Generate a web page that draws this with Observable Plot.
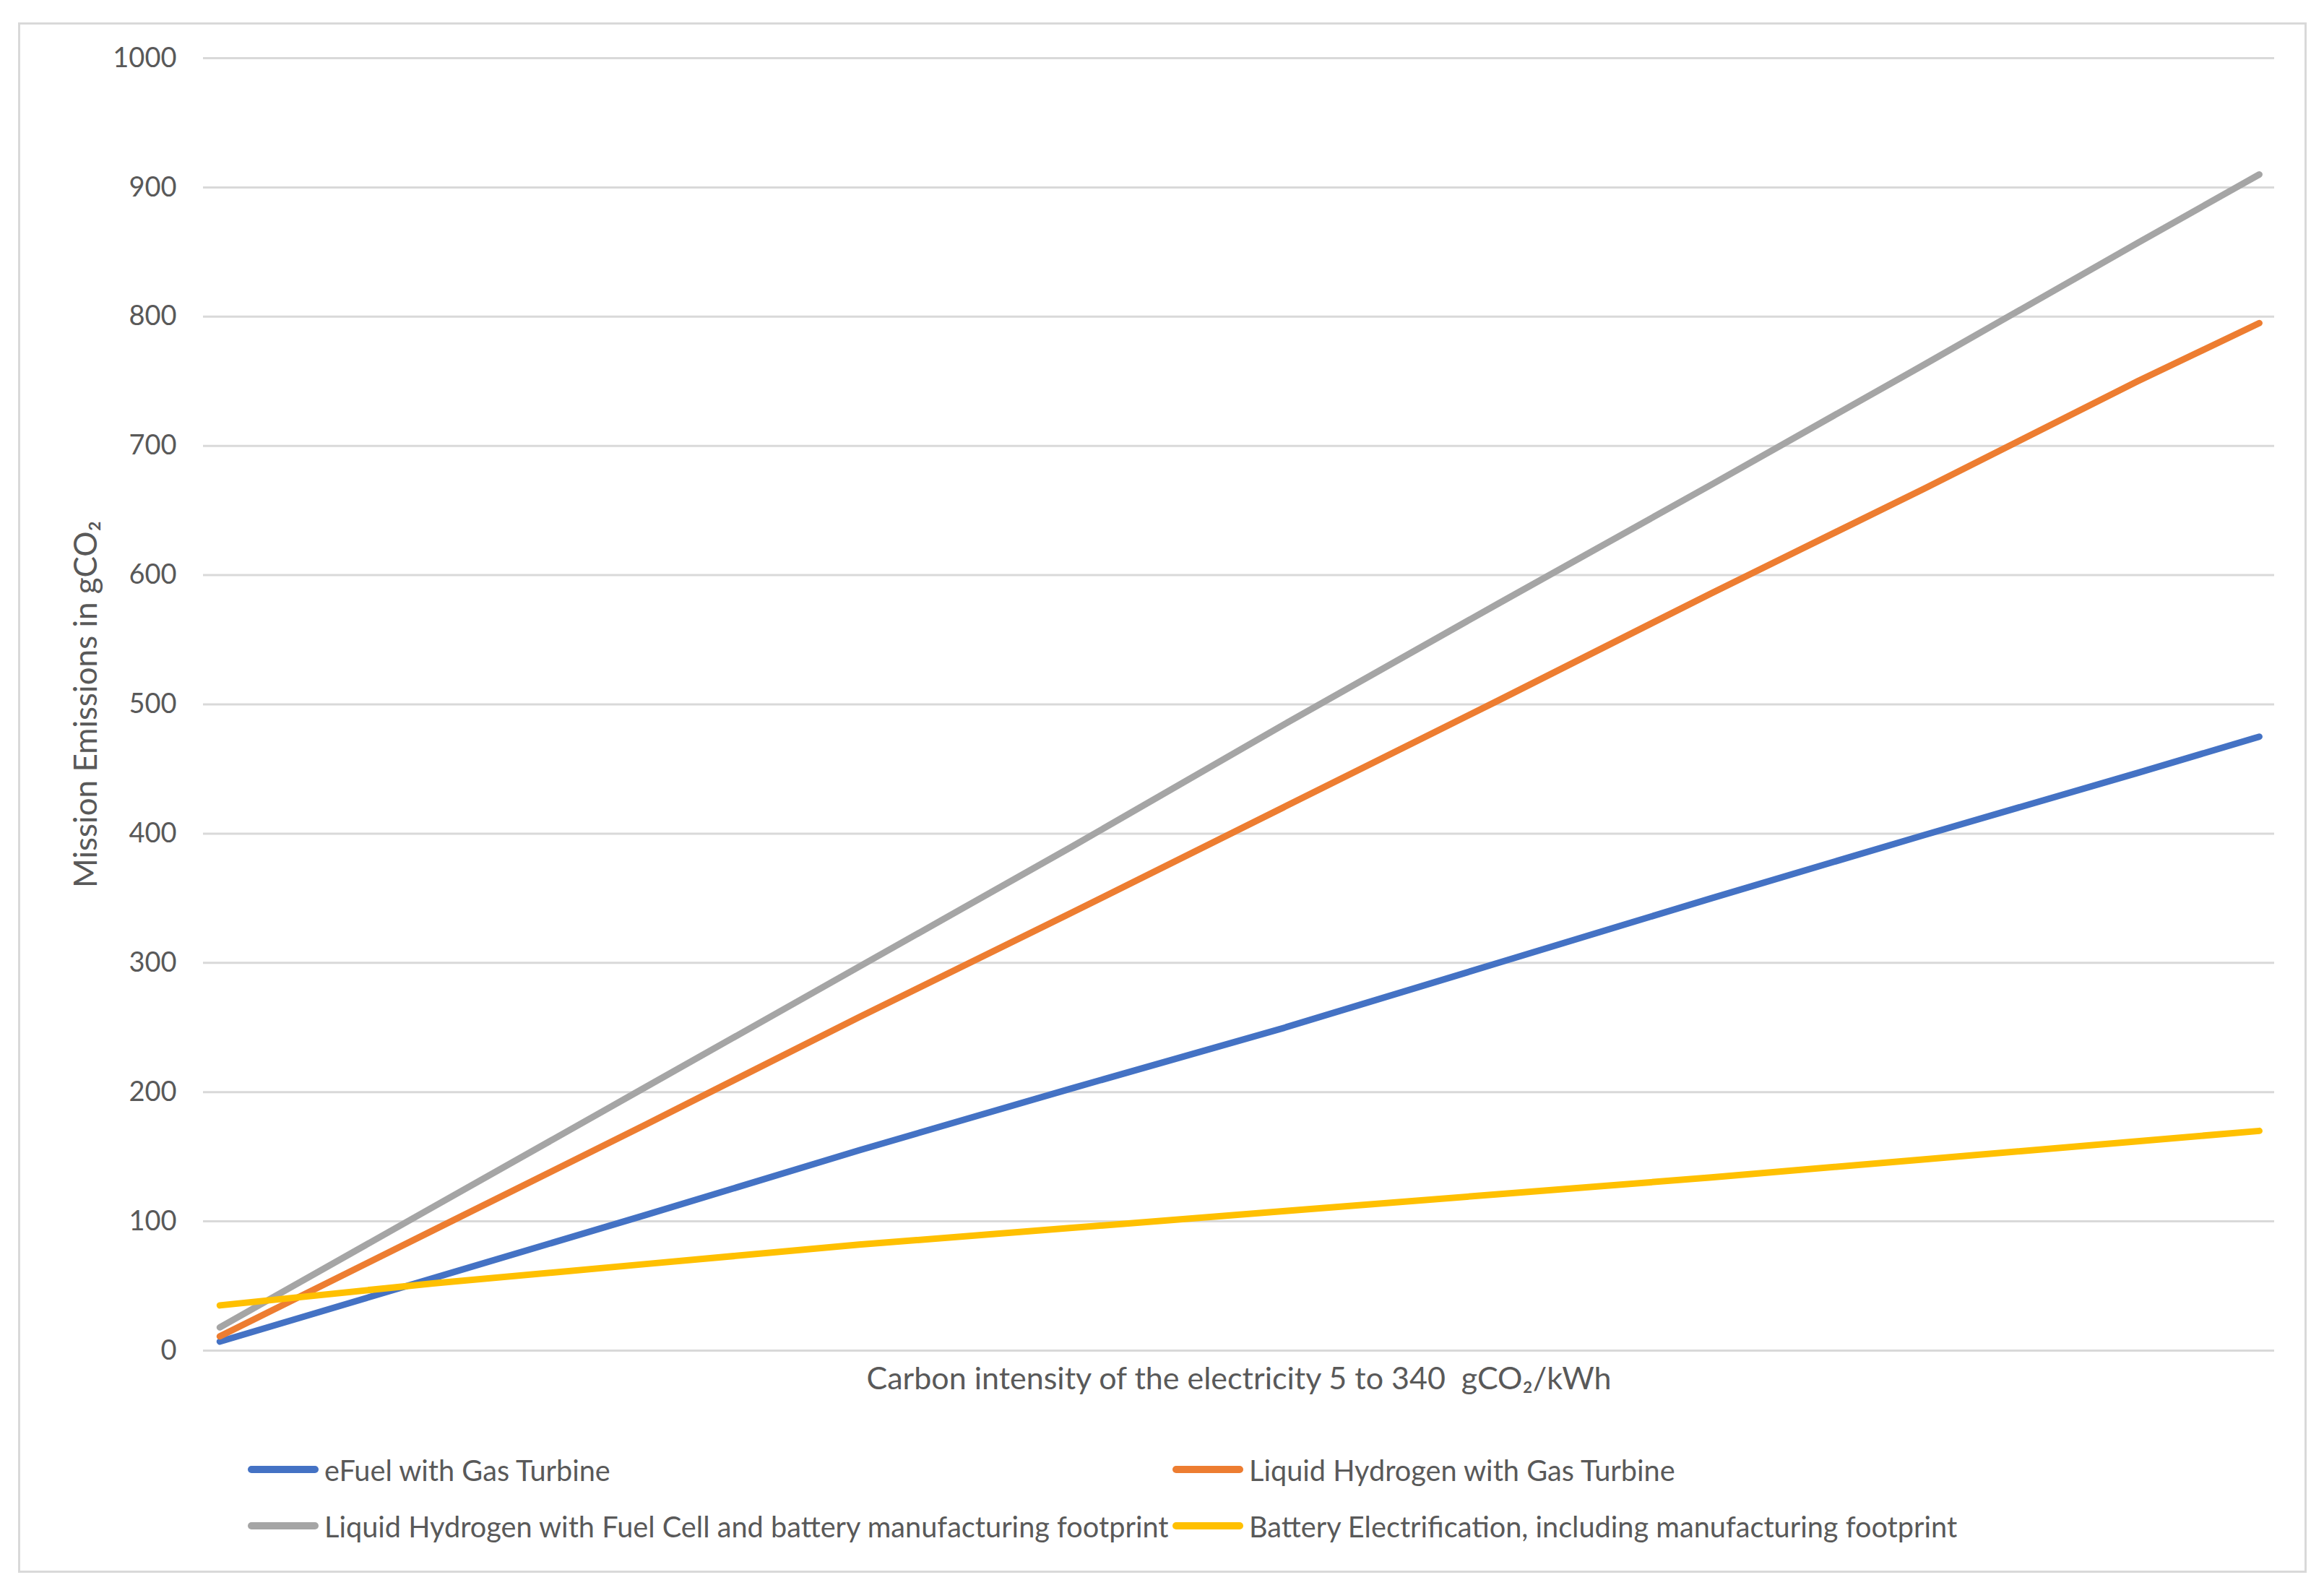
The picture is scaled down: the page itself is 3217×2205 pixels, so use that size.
<!DOCTYPE html>
<html><head><meta charset="utf-8">
<script src="https://cdn.jsdelivr.net/npm/d3@7"></script>
<script src="https://cdn.jsdelivr.net/npm/@observablehq/plot@0.6"></script>
<style>
body{margin:0;background:#fff;}
#wrap{position:relative;width:3217px;height:2205px;overflow:hidden;font-family:Lato, sans-serif;background:#fff;}
#frame{position:absolute;left:25px;top:31px;width:3168px;height:2146px;border:3px solid #d9d9d9;box-sizing:border-box;}
#chart{position:absolute;left:0;top:0;}
.leg{position:absolute;height:50px;display:flex;align-items:center;font-size:39.7px;color:#595959;white-space:nowrap;}
.sw{width:98px;height:10px;border-radius:5px;margin-right:8px;flex:none;}
</style></head>
<body><div id="wrap"><div id="frame"></div><div id="chart"></div><div id="legend"></div></div>
<script>
// Carbon intensity of the electricity (gCO2/kWh)
const carbonIntensity = [5, 40, 75, 110, 145, 180, 215, 250, 285, 320, 340];
// Mission emissions (gCO2)
const eFuelGasTurbine      = [7, 56, 105, 155, 203, 250, 300, 350, 399, 447, 475];
const lh2GasTurbine        = [11, 93, 175, 258, 339, 421, 503, 586, 667, 750, 795];
const lh2FuelCellBattery   = [18, 111, 204, 297, 390, 485, 578, 670, 763, 857, 910];
const batteryElectric      = [35, 52, 67, 82, 95, 108, 121, 134, 148, 162, 170];

const seriesNames = [
  "eFuel with Gas Turbine",
  "Liquid Hydrogen with Gas Turbine",
  "Liquid Hydrogen with Fuel Cell and battery manufacturing footprint",
  "Battery Electrification, including manufacturing footprint"
];
const seriesValues = [eFuelGasTurbine, lh2GasTurbine, lh2FuelCellBattery, batteryElectric];
const seriesColors = ["#4472C4", "#ED7D31", "#A5A5A5", "#FFC000"];
const yTicks = [0, 100, 200, 300, 400, 500, 600, 700, 800, 900, 1000];
const yTitle = "Mission Emissions in gCO₂";
const xTitle = "Carbon intensity of the electricity 5 to 340  gCO₂/kWh";

const rows = [];
seriesNames.forEach((s, i) => carbonIntensity.forEach((x, j) => rows.push({x, y: seriesValues[i][j], series: s})));

const H = 1960;
const plot = Plot.plot({
  width: 3217, height: H,
  marginLeft: 281, marginRight: 69, marginTop: 80, marginBottom: H - 1869,
  x: {domain: [2.3, 342.5], axis: null},
  y: {domain: [0, 1000], axis: null},
  color: {domain: seriesNames, range: seriesColors},
  style: {fontFamily: "Lato, sans-serif", background: "transparent", overflow: "visible"},
  marks: [
    Plot.ruleY(yTicks, {stroke: "#d9d9d9", strokeWidth: 3, strokeOpacity: 1}),
    Plot.axisY(yTicks, {tickSize: 0, tickPadding: 37, fontSize: 38, color: "#595959", label: null, tickFormat: d => String(d)}),
    Plot.line(rows, {x: "x", y: "y", z: "series", stroke: "series", strokeWidth: 9, strokeLinecap: "round", strokeLinejoin: "round"}),
    Plot.text([yTitle], {frameAnchor: "left", dx: -162, rotate: -90, textAnchor: "middle", text: d => d, fontSize: 44, fill: "#595959"}),
    Plot.text([xTitle], {frameAnchor: "bottom", dy: 53, textAnchor: "middle", text: d => d, fontSize: 43, fill: "#595959"})
  ]
});
document.getElementById("chart").appendChild(plot);

const legendPos = [
  {left: 343, top: 2034}, {left: 1623, top: 2034},
  {left: 343, top: 2112}, {left: 1623, top: 2112}
];
const leg = document.getElementById("legend");
seriesNames.forEach((s, i) => {
  const d = document.createElement("div");
  d.className = "leg";
  d.style.left = legendPos[i].left + "px";
  d.style.top = (legendPos[i].top - 25) + "px";
  const sw = document.createElement("span");
  sw.className = "sw";
  sw.style.background = seriesColors[i];
  const t = document.createElement("span");
  t.textContent = s;
  d.appendChild(sw); d.appendChild(t);
  leg.appendChild(d);
});
</script>
</body></html>
